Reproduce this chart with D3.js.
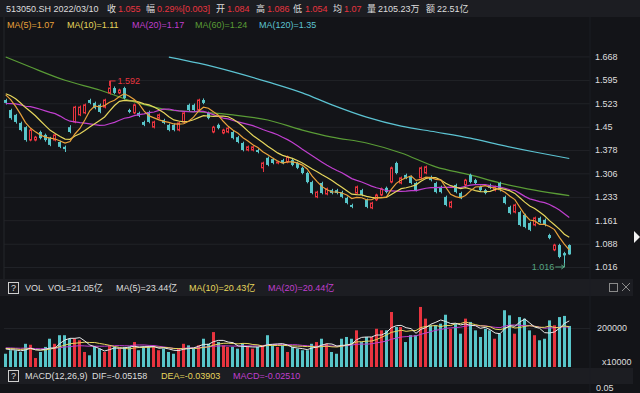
<!DOCTYPE html>
<html>
<head>
<meta charset="utf-8">
<script src="https://cdn.jsdelivr.net/npm/d3@7"></script>
<style>
html, body { margin: 0; padding: 0; background: #131418; }
svg { display: block; font-family: "Liberation Sans", Arial, "Noto Sans CJK SC", sans-serif; }
</style>
</head>
<body>
<script>
// daily bars, 513050.SH, oldest first
const opens = [1.533,1.502,1.487,1.462,1.449,1.409,1.409,1.434,1.425,1.415,1.409,1.403,1.388,1.449,1.465,1.487,1.493,1.533,1.524,1.518,
  1.511,1.555,1.570,1.555,1.570,1.502,1.493,1.493,1.465,1.496,1.449,1.477,1.471,1.456,1.456,1.440,1.465,1.518,1.518,1.502,
  1.533,1.493,1.434,1.456,1.431,1.434,1.434,1.418,1.400,1.378,1.378,1.378,1.323,1.354,1.350,1.338,1.347,1.341,1.347,1.338,
  1.323,1.307,1.279,1.233,1.276,1.242,1.254,1.254,1.248,1.230,1.208,1.245,1.254,1.224,1.199,1.224,1.239,1.261,1.279,1.338,
  1.276,1.301,1.295,1.276,1.292,1.307,1.295,1.276,1.264,1.233,1.202,1.270,1.245,1.270,1.301,1.285,1.264,1.254,1.270,1.254,
  1.276,1.233,1.202,1.186,1.186,1.177,1.152,1.146,1.168,1.162,1.115,1.069,1.084,1.059,1.084];
const closes = [1.524,1.477,1.465,1.440,1.409,1.440,1.418,1.415,1.409,1.394,1.425,1.388,1.381,1.434,1.511,1.511,1.518,1.524,1.508,1.496,
  1.533,1.570,1.555,1.564,1.539,1.496,1.518,1.484,1.456,1.465,1.465,1.487,1.462,1.440,1.440,1.462,1.493,1.502,1.502,1.533,
  1.524,1.477,1.449,1.446,1.440,1.446,1.415,1.403,1.378,1.388,1.388,1.372,1.338,1.332,1.338,1.341,1.338,1.357,1.332,1.323,
  1.307,1.279,1.245,1.248,1.245,1.258,1.245,1.245,1.233,1.214,1.202,1.264,1.239,1.202,1.214,1.239,1.258,1.248,1.323,1.307,
  1.292,1.292,1.276,1.254,1.323,1.326,1.285,1.248,1.248,1.208,1.217,1.248,1.230,1.285,1.279,1.276,1.254,1.245,1.261,1.264,
  1.254,1.214,1.183,1.208,1.146,1.140,1.131,1.168,1.155,1.146,1.106,1.084,1.047,1.052,1.055];
const highs = [1.537,1.506,1.490,1.466,1.452,1.444,1.422,1.438,1.429,1.419,1.429,1.407,1.392,1.455,1.515,1.516,1.522,1.537,1.528,1.522,
  1.537,1.592,1.575,1.568,1.574,1.506,1.522,1.497,1.469,1.500,1.469,1.491,1.475,1.460,1.460,1.466,1.497,1.522,1.522,1.537,
  1.538,1.497,1.453,1.460,1.444,1.450,1.438,1.422,1.404,1.392,1.392,1.382,1.342,1.358,1.354,1.345,1.351,1.361,1.351,1.342,
  1.327,1.311,1.283,1.252,1.280,1.262,1.258,1.258,1.252,1.234,1.212,1.268,1.258,1.228,1.218,1.243,1.262,1.265,1.327,1.342,
  1.296,1.305,1.299,1.280,1.327,1.330,1.299,1.280,1.268,1.237,1.221,1.274,1.249,1.289,1.305,1.289,1.268,1.258,1.274,1.268,
  1.280,1.237,1.206,1.212,1.190,1.181,1.156,1.172,1.172,1.166,1.119,1.088,1.088,1.063,1.086];
const lows = [1.519,1.472,1.460,1.436,1.404,1.405,1.405,1.411,1.404,1.390,1.405,1.384,1.372,1.430,1.461,1.483,1.489,1.520,1.504,1.492,
  1.507,1.550,1.551,1.551,1.535,1.492,1.489,1.480,1.452,1.461,1.445,1.473,1.458,1.436,1.436,1.436,1.461,1.498,1.498,1.498,
  1.520,1.473,1.430,1.442,1.427,1.430,1.411,1.399,1.374,1.374,1.374,1.368,1.310,1.328,1.334,1.334,1.334,1.337,1.328,1.319,
  1.303,1.275,1.241,1.229,1.241,1.238,1.241,1.241,1.229,1.210,1.198,1.241,1.235,1.198,1.195,1.220,1.235,1.244,1.275,1.303,
  1.272,1.288,1.272,1.250,1.288,1.303,1.281,1.244,1.244,1.204,1.198,1.244,1.226,1.266,1.275,1.272,1.250,1.241,1.257,1.250,
  1.250,1.210,1.179,1.182,1.142,1.136,1.127,1.142,1.151,1.142,1.102,1.065,1.043,1.016,1.054];
// volume, x10000
const volumes = [68000,86000,86000,77000,119000,114000,46000,77000,103000,145000,119000,163000,163000,145000,145000,137000,77000,60000,103000,94000,
  77000,111000,103000,94000,103000,103000,128000,86000,103000,103000,103000,86000,94000,77000,68000,97000,119000,111000,94000,111000,
  145000,119000,179000,128000,111000,103000,103000,94000,119000,103000,94000,103000,111000,163000,111000,103000,111000,77000,103000,94000,
  86000,86000,119000,128000,145000,119000,77000,68000,145000,154000,145000,188000,128000,154000,154000,196000,188000,188000,282000,205000,
  205000,128000,163000,163000,308000,248000,214000,214000,222000,268000,196000,222000,171000,248000,231000,188000,154000,196000,188000,145000,
  171000,291000,265000,171000,256000,248000,188000,163000,137000,145000,239000,214000,256000,262000,210523];
// sessions before the window, used for the moving averages
const prevCloses = [1.49,1.48,1.50,1.49,1.47,1.49,1.50,1.51,1.49,1.50,1.54,1.56,1.57,1.55,1.56,1.55,1.57,1.56,1.54];
const prevVolumes = [95000,110000,88000,102000,120000,97000,85000,105000,99000,112000,94000,101000,108000,90000,96000,104000,92000,100000,98000];
// long averages at some sessions
const ma60Idx = [0,5,12,19,26,33,39,46,53,60,66,73,80,87,94,100,107,114];
const ma60Val = [1.666,1.635,1.594,1.564,1.527,1.502,1.496,1.487,1.471,1.440,1.418,1.400,1.369,1.326,1.301,1.276,1.254,1.237];
const ma120Idx = [33,39,46,53,60,66,73,80,87,94,100,107,114];
const ma120Val = [1.666,1.647,1.620,1.589,1.555,1.518,1.480,1.452,1.434,1.415,1.394,1.372,1.352];

const priceTicks = [1.016,1.088,1.161,1.233,1.306,1.378,1.45,1.523,1.595,1.668];
const priceTickLabels = ["1.016","1.088","1.161","1.233","1.306","1.378","1.45","1.523","1.595","1.668"];
const volTicks = [200000];
const volTickLabels = ["200000"];

const W = 640, H = 393;
const bg = "#131418", headBg = "#1c1d22", grid = "#202227";
const up = "#e8343f", down = "#58c5c9", txt = "#dedede";
const c5 = "#e9a23b", c10 = "#e6d65c", c20 = "#c03fcf", c60 = "#5a9c36", c120 = "#5cc3d2";
const fs = "9px";

const svg = d3.select("body").append("svg")
    .attr("width", W)
    .attr("height", H);

svg.append("rect").attr("width", W).attr("height", H).attr("fill", bg);

const n = closes.length;
const x = d3.scaleBand().domain(d3.range(n)).range([4, 571]).paddingInner(0.3);
const cx = i => x(i) + x.bandwidth() / 2;
const y = d3.scaleLinear().domain([1.016, 1.668]).range([267, 56.4]);
const yv = d3.scaleLinear().domain([0, 200000]).range([367, 328]);

function movingAvg(vals, prev, k) {
  const all = prev.concat(vals);
  return vals.map((v, i) => d3.mean(all.slice(i + prev.length - k + 1, i + prev.length + 1)));
}

// ---- header rows
svg.append("rect").attr("width", W).attr("height", 17).attr("fill", headBg);
svg.append("rect").attr("y", 279).attr("width", 633).attr("height", 17).attr("fill", headBg);
svg.append("rect").attr("y", 368).attr("width", 633).attr("height", 16).attr("fill", headBg);

function put(g, xx, yy, s, col, anchor) {
  g.append("text").attr("x", xx).attr("y", yy).attr("dy", "0.35em")
    .attr("fill", col).attr("font-size", fs)
    .attr("text-anchor", anchor || "start").text(s);
}

const head = svg.append("g");
[[6, "513050.SH 2022/03/10", txt], [107, "收", txt], [118, "1.055", up], [146, "幅", txt], [157, "0.29%[0.003]", up],
 [216, "开", txt], [227, "1.084", up], [256, "高", txt], [267, "1.086", up], [293, "低", txt], [305, "1.054", up],
 [333, "均", txt], [344, "1.07", up], [367, "量", txt], [378, "2105.23万", txt], [426, "额", txt], [437, "22.51亿", txt]]
  .forEach(d => put(head, d[0], 9, d[1], d[2]));

[[7, "MA(5)=1.07", c5], [67, "MA(10)=1.11", c10], [132, "MA(20)=1.17", c20], [195, "MA(60)=1.24", c60], [259, "MA(120)=1.35", c120]]
  .forEach(d => put(head, d[0], 25, d[1], d[2]));

// ---- price panel
const gridG = svg.append("g").attr("transform", "translate(590,0)")
  .call(d3.axisLeft(y).tickValues(priceTicks).tickSize(586).tickFormat(""));
gridG.select(".domain").remove();
gridG.selectAll("line").attr("stroke", grid);

const axG = svg.append("g").attr("transform", "translate(593,0)")
  .call(d3.axisRight(y).tickValues(priceTicks).tickSize(0).tickPadding(2)
    .tickFormat((d, i) => priceTickLabels[i]));
axG.select(".domain").remove();
axG.selectAll("text").attr("fill", txt).attr("font-size", fs).attr("font-family", "Liberation Sans, Arial, sans-serif");

svg.append("line").attr("x1", 4).attr("x2", 4).attr("y1", 17).attr("y2", 279).attr("stroke", "#24262b");
svg.append("line").attr("x1", 590).attr("x2", 590).attr("y1", 17).attr("y2", 393).attr("stroke", "#1b1d22");

svg.append("clipPath").attr("id", "pc").append("rect").attr("x", 4).attr("y", 33).attr("width", 586).attr("height", 245);
const pg = svg.append("g").attr("clip-path", "url(#pc)");

const lineIdx = d3.line().x((d, i) => cx(i)).y(d => y(d));
const ma5 = movingAvg(closes, prevCloses, 5);
const ma10 = movingAvg(closes, prevCloses, 10);
const ma20 = movingAvg(closes, prevCloses, 20);

const smooth = (idx, vals) => d3.line().curve(d3.curveMonotoneX)
  .x((d, i) => cx(idx[i])).y(d => y(d))(vals);

pg.append("path").attr("d", smooth(ma120Idx, ma120Val)).attr("fill", "none").attr("stroke", c120).attr("stroke-width", 1.2);
pg.append("path").attr("d", smooth(ma60Idx, ma60Val)).attr("fill", "none").attr("stroke", c60).attr("stroke-width", 1.2);

const bars = d3.range(n).map(i => ({ i, o: opens[i], c: closes[i], h: highs[i], l: lows[i], up: closes[i] >= opens[i] }));
const cg = pg.append("g");
cg.selectAll("line").data(bars).join("line")
  .attr("x1", d => Math.round(cx(d.i)) + 0.5).attr("x2", d => Math.round(cx(d.i)) + 0.5)
  .attr("y1", d => y(d.h)).attr("y2", d => y(d.l))
  .attr("stroke", d => d.up ? up : down).attr("stroke-width", 1);
cg.selectAll("rect").data(bars).join("rect")
  .attr("x", d => Math.round(x(d.i)) + (d.up ? 0.5 : 0))
  .attr("width", d => Math.round(x.bandwidth()) - (d.up ? 1 : 0))
  .attr("y", d => y(Math.max(d.o, d.c)))
  .attr("height", d => Math.max(1, y(Math.min(d.o, d.c)) - y(Math.max(d.o, d.c))))
  .attr("fill", d => d.up ? bg : down)
  .attr("stroke", d => d.up ? up : "none").attr("stroke-width", 1);

[[ma20, c20], [ma10, c10], [ma5, c5]].forEach(m => {
  pg.append("path").attr("d", lineIdx(m[0])).attr("fill", "none").attr("stroke", m[1]).attr("stroke-width", 1.2);
});

// extreme labels
const hi = d3.maxIndex(highs), lo = d3.minIndex(lows);
pg.append("path").attr("d", `M${cx(hi)},${y(highs[hi]) + 5}V${y(highs[hi])}H${cx(hi) + 6}`)
  .attr("fill", "none").attr("stroke", up);
put(pg, cx(hi) + 8, y(highs[hi]), d3.format(".3f")(highs[hi]), up);
pg.append("path").attr("d", `M${cx(lo) - 9},${y(lows[lo])}H${cx(lo)}V${y(lows[lo]) - 4}`)
  .attr("fill", "none").attr("stroke", "#56a583");
pg.append("path").attr("d", `M${cx(lo) - 3},${y(lows[lo]) - 2}L${cx(lo)},${y(lows[lo])}L${cx(lo) - 3},${y(lows[lo]) + 2}`)
  .attr("fill", "none").attr("stroke", "#56a583");
put(pg, cx(lo) - 10, y(lows[lo]), d3.format(".3f")(lows[lo]), "#56a583", "end");

// ---- volume panel
const vh = svg.append("g");
vh.append("rect").attr("x", 8.5).attr("y", 282.5).attr("width", 10).attr("height", 11).attr("fill", "none").attr("stroke", "#cfcfcf");
put(vh, 13.5, 288, "?", txt, "middle");
[[25, "VOL", txt], [48, "VOL=21.05亿", txt], [116, "MA(5)=23.44亿", txt], [189, "MA(10)=20.43亿", c10], [268, "MA(20)=20.44亿", c20]]
  .forEach(d => put(vh, d[0], 288, d[1], d[2]));
vh.append("rect").attr("x", 609.5).attr("y", 283.5).attr("width", 8).attr("height", 8).attr("fill", "none").attr("stroke", "#8a8a8a");
vh.append("path").attr("d", "M622,283L630,291M630,283L622,291").attr("stroke", "#8a8a8a");

const vGrid = svg.append("g").attr("transform", "translate(590,0)")
  .call(d3.axisLeft(yv).tickValues(volTicks).tickSize(586).tickFormat(""));
vGrid.select(".domain").remove();
vGrid.selectAll("line").attr("stroke", grid);
const vAx = svg.append("g").attr("transform", "translate(595,0)")
  .call(d3.axisRight(yv).tickValues(volTicks).tickSize(0).tickPadding(2).tickFormat((d, i) => volTickLabels[i]));
vAx.select(".domain").remove();
vAx.selectAll("text").attr("fill", txt).attr("font-size", fs).attr("font-family", "Liberation Sans, Arial, sans-serif");
put(svg, 602, 362, "x10000", txt);

svg.append("g").selectAll("rect").data(bars).join("rect")
  .attr("x", d => Math.round(x(d.i)))
  .attr("width", Math.round(x.bandwidth()))
  .attr("y", d => yv(volumes[d.i]))
  .attr("height", d => yv(0) - yv(volumes[d.i]))
  .attr("fill", d => d.up ? up : down);

const vLine = d3.line().x((d, i) => cx(i)).y(d => yv(d));
[[movingAvg(volumes, prevVolumes, 20), c20], [movingAvg(volumes, prevVolumes, 10), c10], [movingAvg(volumes, prevVolumes, 5), "#e8e8e8"]]
  .forEach(m => svg.append("path").attr("d", vLine(m[0])).attr("fill", "none").attr("stroke", m[1]).attr("stroke-width", 1));

// ---- macd header
const mh = svg.append("g");
mh.append("rect").attr("x", 8.5).attr("y", 370.5).attr("width", 10).attr("height", 11).attr("fill", "none").attr("stroke", "#cfcfcf");
put(mh, 13.5, 376, "?", txt, "middle");
[[25, "MACD(12,26,9)", txt], [92, "DIF=-0.05158", txt], [161, "DEA=-0.03903", c10], [233, "MACD=-0.02510", c20]]
  .forEach(d => put(mh, d[0], 376, d[1], d[2]));
put(svg, 596, 388, "0.05", txt);

// pointer at the right edge
svg.append("path").attr("d", "M634,231L640,237L634,243Z").attr("fill", "#f2f2f2");
</script>
</body>
</html>
